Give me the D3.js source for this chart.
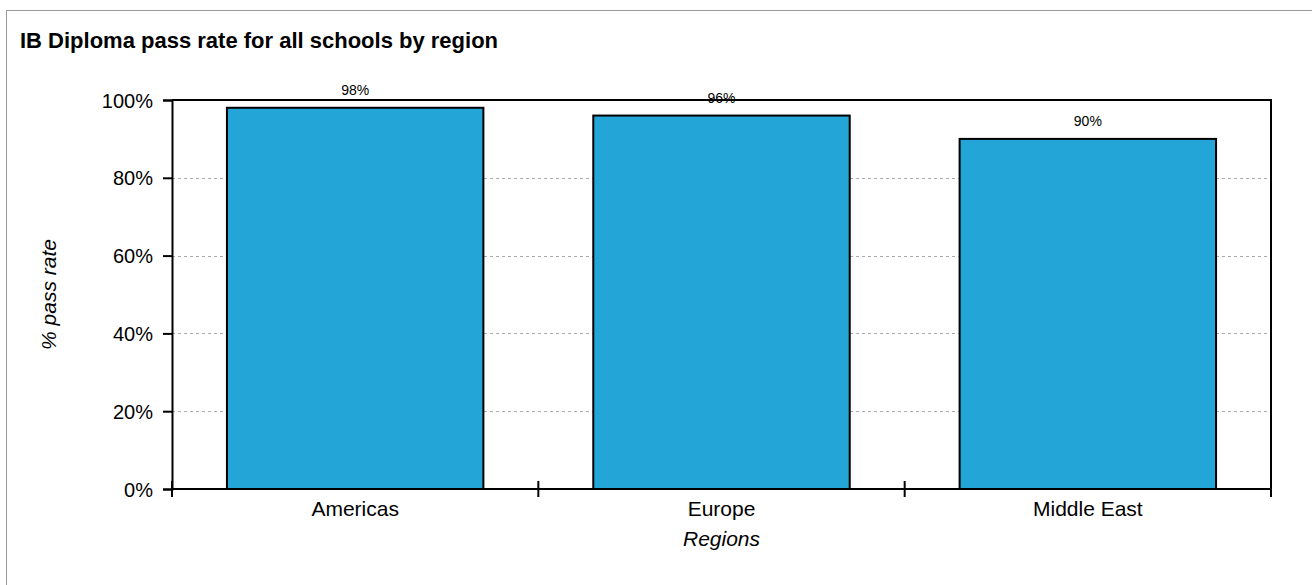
<!DOCTYPE html>
<html>
<head>
<meta charset="utf-8">
<script src="https://cdn.jsdelivr.net/npm/d3@7"></script>
<style>
  html, body { margin: 0; padding: 0; background: #fff; }
  svg { display: block; font-family: "Liberation Sans", Arial, sans-serif; }
</style>
</head>
<body>
<svg id="chart" width="1312" height="585"></svg>
<script>
const categories = ["Americas", "Europe", "Middle East"];
const passRates = [98, 96, 90];
const yTicks = [0, 20, 40, 60, 80, 100];
const titleText = "IB Diploma pass rate for all schools by region";
const xTitle = "Regions";
const yTitle = "% pass rate";

const svg = d3.select("#chart");
const W = 1312, H = 585;
const m = { left: 172, right: 1271, top: 100, bottom: 489 };

// outer frame
svg.append("rect").attr("x", 6.5).attr("y", 10.5).attr("width", W + 20).attr("height", H + 20)
  .attr("fill", "#fff").attr("stroke", "#999").attr("stroke-width", 1);

svg.append("text").attr("x", 20).attr("y", 48).attr("font-size", 22).attr("font-weight", "bold")
  .attr("fill", "#000").text(titleText);

const x = d3.scaleBand().domain(categories).range([m.left, m.right]).paddingInner(0.3).paddingOuter(0.15);
const y = d3.scaleLinear().domain([0, 100]).range([m.bottom, m.top]);

// grid
svg.append("g").selectAll("line").data(yTicks.filter(d => d > 0 && d < 100)).join("line")
  .attr("x1", m.left).attr("x2", m.right)
  .attr("y1", d => Math.round(y(d)) + 0.5).attr("y2", d => Math.round(y(d)) + 0.5)
  .attr("stroke", "#aaa").attr("stroke-width", 1).attr("stroke-dasharray", "3,3");

// plot border top & right
svg.append("path")
  .attr("d", `M${m.left},${m.top}H${m.right}V${m.bottom}`)
  .attr("fill", "none").attr("stroke", "#000").attr("stroke-width", 2);

// bars
svg.append("g").selectAll("rect").data(passRates).join("rect")
  .attr("x", (d, i) => x(categories[i]))
  .attr("width", x.bandwidth())
  .attr("y", d => y(d))
  .attr("height", d => y(0) - y(d))
  .attr("fill", "#23A5D8").attr("stroke", "#000").attr("stroke-width", 2);

// bar labels
svg.append("g").selectAll("text").data(passRates).join("text")
  .attr("x", (d, i) => x(categories[i]) + x.bandwidth() / 2)
  .attr("y", d => y(d) - 13)
  .attr("text-anchor", "middle").attr("font-size", 14).attr("fill", "#000")
  .text(d => d + "%");

// y axis
const yAxis = d3.axisLeft(y).tickValues(yTicks).tickFormat(d => d + "%").tickSize(9).tickPadding(10);
const gy = svg.append("g").attr("transform", `translate(${m.left},0)`).call(yAxis);
gy.select(".domain").attr("stroke", "#000").attr("stroke-width", 2);
gy.selectAll(".tick line").attr("stroke", "#000").attr("stroke-width", 2);
gy.selectAll(".tick text").attr("font-size", 20).attr("font-family", "Liberation Sans, Arial, sans-serif").attr("fill", "#000").attr("dy", "0.35em");

// x axis
const gx = svg.append("g").attr("transform", `translate(0,${m.bottom})`);
gx.append("line").attr("x1", m.left).attr("x2", m.right).attr("y1", 0).attr("y2", 0)
  .attr("stroke", "#000").attr("stroke-width", 2);
const boundaries = d3.range(categories.length + 1).map(i => m.left + i * (m.right - m.left) / categories.length);
gx.selectAll(".bt").data(boundaries).join("line")
  .attr("x1", d => d).attr("x2", d => d).attr("y1", -8).attr("y2", 8)
  .attr("stroke", "#000").attr("stroke-width", 2);
gx.selectAll(".cl").data(categories).join("text")
  .attr("x", d => x(d) + x.bandwidth() / 2).attr("y", 27)
  .attr("text-anchor", "middle").attr("font-size", 21).attr("fill", "#000").text(d => d);

svg.append("text").attr("x", (m.left + m.right) / 2).attr("y", 546)
  .attr("text-anchor", "middle").attr("font-size", 21).attr("font-style", "italic").text(xTitle);

svg.append("text").attr("transform", `translate(56,${(m.top + m.bottom) / 2}) rotate(-90)`)
  .attr("text-anchor", "middle").attr("font-size", 21).attr("font-style", "italic").text(yTitle);
</script>
</body>
</html>
